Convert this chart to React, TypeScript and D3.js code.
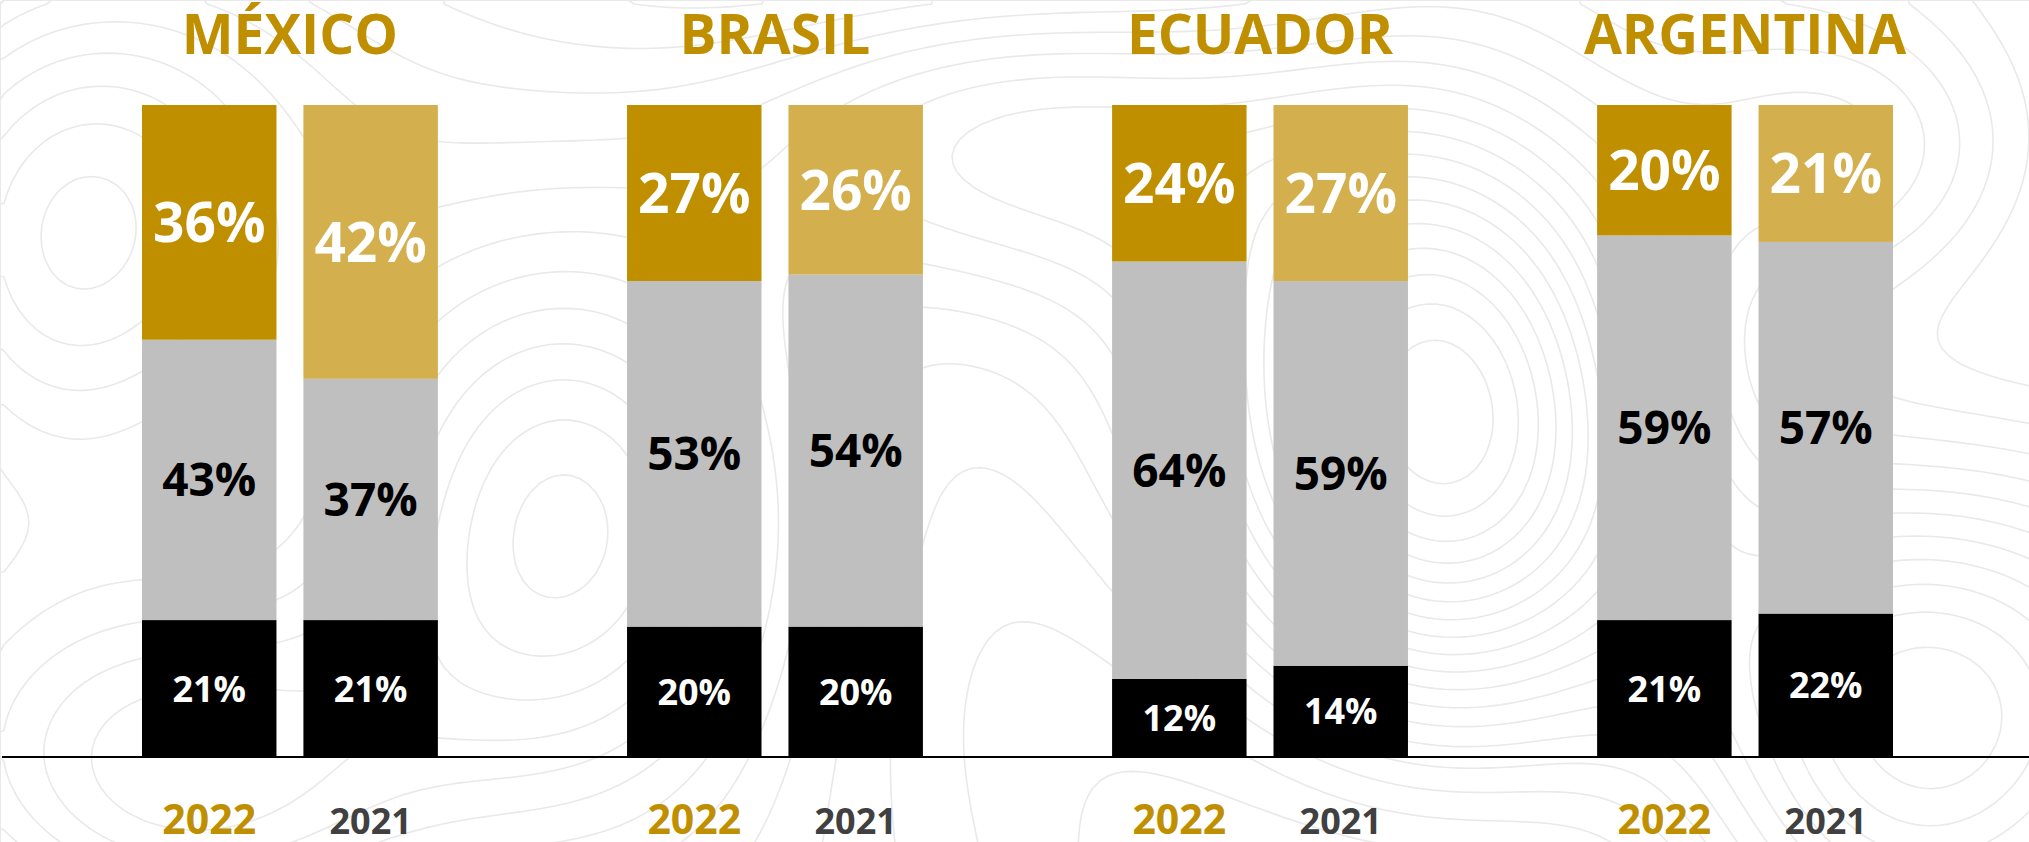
import React from "react";
import * as d3 from "d3";

const countries = ["MÉXICO", "BRASIL", "ECUADOR", "ARGENTINA"];
const years = ["2022", "2021"];

// shares per country (same order as countries), bottom → top
const black2022 = [21, 20, 12, 21];
const gray2022 = [43, 53, 64, 59];
const gold2022 = [36, 27, 24, 20];
const black2021 = [21, 20, 14, 22];
const gray2021 = [37, 54, 59, 57];
const gold2021 = [42, 26, 27, 21];

const seriesKeys = ["black", "gray", "gold"];

const W = 2029;
const H = 842;

const GOLD = "#BF8F00";
const GOLD_LIGHT = "#D3B04D";
const GRAY = "#BFBFBF";

type Row = { country: string; year: string; black: number; gray: number; gold: number };

const rows: Row[] = [];
countries.forEach((c, i) => {
  rows.push({ country: c, year: "2022", black: black2022[i], gray: gray2022[i], gold: gold2022[i] });
  rows.push({ country: c, year: "2021", black: black2021[i], gray: gray2021[i], gold: gold2021[i] });
});

// decorative topographic background
function buildContours() {
  const cell = 8;
  const n = Math.ceil(W / cell) + 1;
  const m = Math.ceil(H / cell) + 1;
  const bumps = [
    [560, 520, 260, 300, 2.2],
    [1450, 430, 230, 330, 2.4],
    [180, 780, 260, 220, 1.4],
    [1000, 120, 320, 180, 1.2],
    [1900, 720, 240, 260, 1.5],
    [1850, 150, 200, 160, 1.0],
    [60, 250, 220, 260, 1.2],
  ];
  const vals = new Array(n * m);
  for (let j = 0; j < m; j++) {
    for (let i = 0; i < n; i++) {
      const x = i * cell;
      const y = j * cell;
      let v = 0;
      for (const [cx, cy, sx, sy, a] of bumps) {
        const dx = (x - cx) / sx;
        const dy = (y - cy) / sy;
        v += a * Math.exp(-(dx * dx + dy * dy));
      }
      v += 0.25 * Math.sin(x / 190 + y / 260) + 0.15 * Math.cos(y / 120 - x / 400);
      vals[j * n + i] = v;
    }
  }
  const th = d3.range(-0.3, 2.6, 0.14);
  const cs = d3.contours().size([n, m]).thresholds(th)(vals);
  const path = d3.geoPath(d3.geoIdentity().scale(cell) as any);
  return cs.map((c) => path(c as any) || "");
}

export default function App() {
  const x0 = d3.scaleBand<string>().domain(countries).range([142, 1893]).paddingInner(0.39).paddingOuter(0);
  const x1 = d3.scaleBand<string>().domain(years).range([0, x0.bandwidth()]).paddingInner(0.167).paddingOuter(0);
  const yScale = d3.scaleLinear().domain([0, 100]).range([757, 105]);

  const stacked = d3.stack<Row>().keys(seriesKeys)(rows);
  const contourPaths = React.useMemo(buildContours, []);

  const fill = (key: string, year: string) =>
    key === "black" ? "#000000" : key === "gray" ? GRAY : year === "2022" ? GOLD : GOLD_LIGHT;
  const labelColor = (key: string) => (key === "gray" ? "#000000" : "#FFFFFF");
  const labelSize = (key: string) => (key === "gold" ? 55 : key === "gray" ? 46 : 36);

  return (
    <svg
      width={W}
      height={H}
      viewBox={`0 0 ${W} ${H}`}
      style={{ position: "absolute", left: 0, top: 0, display: "block", background: "#FFFFFF" }}
      fontFamily="'Open Sans', sans-serif"
      fontWeight={700}
    >
      <rect width={W} height={H} fill="#FFFFFF" />
      <g fill="none" stroke="#E9E9E9" strokeWidth={1.6}>
        {contourPaths.map((d, i) => (
          <path key={i} d={d} />
        ))}
      </g>

      {stacked.map((layer) => (
        <g key={layer.key}>
          {layer.map((seg, i) => {
            const r = seg.data;
            const x = (x0(r.country) as number) + (x1(r.year) as number);
            const yTop = yScale(seg[1]);
            const yBot = yScale(seg[0]);
            const v = r[layer.key as keyof Row] as number;
            const fs = labelSize(layer.key);
            return (
              <g key={i}>
                <rect x={x} y={yTop} width={x1.bandwidth()} height={yBot - yTop} fill={fill(layer.key, r.year)} />
                <text
                  x={x + x1.bandwidth() / 2}
                  y={(yTop + yBot) / 2 + fs * 0.36}
                  textAnchor="middle"
                  fontSize={fs}
                  fill={labelColor(layer.key)}
                >
                  {`${v}%`}
                </text>
              </g>
            );
          })}
        </g>
      ))}

      <line x1={2} x2={W} y1={757} y2={757} stroke="#000000" strokeWidth={2} />

      {countries.map((c) => (
        <text
          key={c}
          x={(x0(c) as number) + x0.bandwidth() / 2}
          y={54}
          textAnchor="middle"
          fontSize={55}
          fill={GOLD}
        >
          {c}
        </text>
      ))}

      {countries.map((c) =>
        years.map((yr) => (
          <text
            key={c + yr}
            x={(x0(c) as number) + (x1(yr) as number) + x1.bandwidth() / 2}
            y={834}
            textAnchor="middle"
            fontSize={yr === "2022" ? 41 : 36}
            fill={yr === "2022" ? GOLD : "#404040"}
          >
            {yr}
          </text>
        ))
      )}
    </svg>
  );
}
